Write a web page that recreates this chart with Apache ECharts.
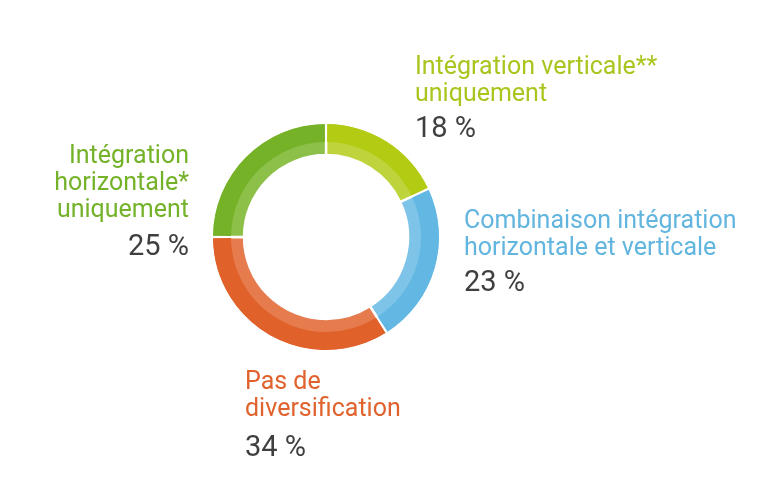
<!DOCTYPE html>
<html>
<head>
<meta charset="utf-8">
<script src="https://cdn.jsdelivr.net/npm/echarts@6/dist/echarts.min.js"></script>
<style>html,body{margin:0;padding:0;background:#fff}#c{width:768px;height:487px}</style>
</head>
<body>
<div id="c"></div>
<script>
const categories = ['Intégration verticale**\nuniquement', 'Combinaison intégration\nhorizontale et verticale', 'Pas de\ndiversification', 'Intégration\nhorizontale*\nuniquement'];
const values = [18, 23, 34, 25];
const valueLabels = ['18 %', '23 %', '34 %', '25 %'];
const darkColors = ['#b4cb14', '#62b7e3', '#e1612a', '#75b227'];
const lightColors = ['#bfd43c', '#7ec4e8', '#e67c4e', '#8cc049'];
const textColors = ['#a9c61e', '#61b5df', '#e0622c', '#74b22a'];
const labelPos = [
  {x: 415, y: 54, align: 'left', vh: 44},
  {x: 464, y: 208, align: 'left', vh: 44},
  {x: 245, y: 369, align: 'left', vh: 52},
  {x: 189, y: 143, align: 'right', vh: 48}
];
const FONT = 'Roboto';
const chart = echarts.init(document.getElementById('c'), null, {renderer: 'canvas'});
const darkData = categories.map((c, i) => ({
  name: c, value: values[i],
  itemStyle: {color: darkColors[i]},
  label: {
    align: labelPos[i].align,
    formatter: '{n|' + c + '}\n{v|' + valueLabels[i] + '}',
    rich: {
      n: {fontFamily: FONT, fontSize: 25, lineHeight: 27, color: textColors[i], align: labelPos[i].align},
      v: {fontFamily: FONT, fontSize: 29, lineHeight: labelPos[i].vh, color: '#3f3f3f', align: labelPos[i].align}
    }
  }
}));
const lightData = categories.map((c, i) => ({name: c, value: values[i], itemStyle: {color: lightColors[i]}}));
chart.setOption({
  animation: false,
  series: [
    {
      type: 'pie', silent: true, center: [326, 237], radius: [82, 114], z: 1,
      startAngle: 90, clockwise: true,
      itemStyle: {borderColor: '#fff', borderWidth: 2.4},
      label: {show: false}, labelLine: {show: false},
      data: lightData
    },
    {
      type: 'pie', silent: true, center: [326, 237], radius: [95, 113], z: 2,
      startAngle: 90, clockwise: true, avoidLabelOverlap: false, padAngle: 1.3,
      itemStyle: {borderWidth: 0},
      label: {show: true, position: 'outside'},
      labelLine: {show: false},
      labelLayout: function (p) {
        const lp = labelPos[p.dataIndex];
        return {x: lp.x, y: lp.y, align: lp.align, verticalAlign: 'top'};
      },
      data: darkData
    }
  ]
});
</script>
</body>
</html>
